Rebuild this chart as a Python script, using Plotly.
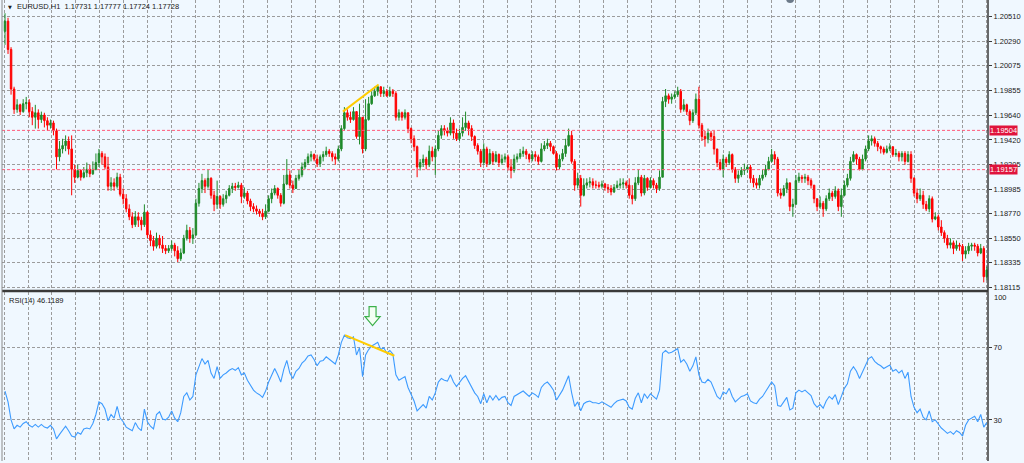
## EURUSD H1 candles with RSI(14) sub-window, MetaTrader look
import plotly.graph_objects as go

# first bar open, then closes / highs / lows of every H1 bar (left to right)
first_open = 1.2038
closes = [
    1.2047, 1.2022, 1.1987, 1.1969, 1.1973, 1.1967, 1.1974, 1.1975, 1.1967, 1.1962,
    1.1966, 1.1960, 1.1964, 1.1959, 1.1955, 1.1957, 1.1950, 1.1927, 1.1934, 1.1937,
    1.1941, 1.1934, 1.1916, 1.1909, 1.1915, 1.1909, 1.1913, 1.1916, 1.1912, 1.1916,
    1.1922, 1.1930, 1.1927, 1.1918, 1.1901, 1.1904, 1.1901, 1.1909, 1.1894, 1.1890,
    1.1881, 1.1874, 1.1867, 1.1874, 1.1871, 1.1867, 1.1878, 1.1858, 1.1853, 1.1848,
    1.1855, 1.1849, 1.1846, 1.1844, 1.1846, 1.1849, 1.1844, 1.1837, 1.1842, 1.1855,
    1.1862, 1.1855, 1.1858, 1.1886, 1.1899, 1.1906, 1.1901, 1.1908, 1.1893, 1.1885,
    1.1892, 1.1885, 1.1890, 1.1893, 1.1899, 1.1901, 1.1900, 1.1902, 1.1892, 1.1895,
    1.1888, 1.1883, 1.1881, 1.1879, 1.1877, 1.1874, 1.1879, 1.1890, 1.1895, 1.1899,
    1.1893, 1.1886, 1.1903, 1.1911, 1.1902, 1.1899, 1.1908, 1.1911, 1.1918, 1.1922,
    1.1927, 1.1929, 1.1925, 1.1921, 1.1927, 1.1929, 1.1932, 1.1930, 1.1927, 1.1925,
    1.1934, 1.1952, 1.1966, 1.1962, 1.1960, 1.1967, 1.1945, 1.1962, 1.1934, 1.1960,
    1.1974, 1.1981, 1.1985, 1.1989, 1.1983, 1.1985, 1.1981, 1.1985, 1.1983, 1.1962,
    1.1966, 1.1962, 1.1966, 1.1952, 1.1943, 1.1936, 1.1918, 1.1922, 1.1925, 1.1920,
    1.1932, 1.1927, 1.1934, 1.1946, 1.1952, 1.1950, 1.1948, 1.1957, 1.1948, 1.1943,
    1.1948, 1.1953, 1.1957, 1.1952, 1.1945, 1.1937, 1.1932, 1.1922, 1.1934, 1.1921,
    1.1930, 1.1923, 1.1929, 1.1922, 1.1925, 1.1927, 1.1918, 1.1915, 1.1925, 1.1927,
    1.1930, 1.1932, 1.1929, 1.1925, 1.1929, 1.1927, 1.1923, 1.1934, 1.1937, 1.1939,
    1.1936, 1.1930, 1.1918, 1.1925, 1.1930, 1.1937, 1.1946, 1.1923, 1.1902, 1.1908,
    1.1893, 1.1902, 1.1904, 1.1905, 1.1902, 1.1902, 1.1901, 1.1903, 1.1900, 1.1899,
    1.1896, 1.1900, 1.1902, 1.1903, 1.1904, 1.1902, 1.1893, 1.1890, 1.1904, 1.1909,
    1.1895, 1.1908, 1.1900, 1.1906, 1.1902, 1.1899, 1.1909, 1.1976, 1.1981, 1.1978,
    1.1980, 1.1982, 1.1985, 1.1969, 1.1973, 1.1967, 1.1959, 1.1966, 1.1978, 1.1955,
    1.1945, 1.1943, 1.1948, 1.1945, 1.1934, 1.1922, 1.1916, 1.1925, 1.1922, 1.1929,
    1.1916, 1.1908, 1.1911, 1.1915, 1.1916, 1.1918, 1.1908, 1.1904, 1.1902, 1.1908,
    1.1911, 1.1916, 1.1923, 1.1929, 1.1925, 1.1895, 1.1893, 1.1899, 1.1904, 1.1883,
    1.1885, 1.1906, 1.1909, 1.1908, 1.1909, 1.1906, 1.1902, 1.1890, 1.1883, 1.1886,
    1.1881, 1.1890, 1.1895, 1.1892, 1.1897, 1.1883, 1.1893, 1.1902, 1.1908, 1.1923,
    1.1929, 1.1925, 1.1916, 1.1925, 1.1934, 1.1941, 1.1943, 1.1939, 1.1936, 1.1934,
    1.1931, 1.1934, 1.1936, 1.1929, 1.1930, 1.1927, 1.1930, 1.1923, 1.1929, 1.1908,
    1.1895, 1.1890, 1.1893, 1.1885, 1.1881, 1.1890, 1.1872, 1.1874, 1.1865, 1.1860,
    1.1855, 1.1849, 1.1851, 1.1846, 1.1849, 1.1848, 1.1841, 1.1844, 1.1848, 1.1849,
    1.1848, 1.1842, 1.1846, 1.1821, 1.1827,
]
highs = [
    1.2054, 1.2050, 1.2024, 1.1989, 1.1978, 1.1974, 1.1978, 1.1980, 1.1978, 1.1971,
    1.1973, 1.1969, 1.1967, 1.1966, 1.1962, 1.1960, 1.1959, 1.1952, 1.1941, 1.1943,
    1.1946, 1.1945, 1.1946, 1.1920, 1.1920, 1.1916, 1.1918, 1.1922, 1.1920, 1.1923,
    1.1930, 1.1934, 1.1932, 1.1930, 1.1927, 1.1909, 1.1908, 1.1913, 1.1912, 1.1899,
    1.1894, 1.1885, 1.1878, 1.1879, 1.1878, 1.1874, 1.1885, 1.1879, 1.1862, 1.1857,
    1.1860, 1.1858, 1.1857, 1.1849, 1.1849, 1.1853, 1.1851, 1.1848, 1.1846, 1.1858,
    1.1867, 1.1865, 1.1864, 1.1890, 1.1904, 1.1912, 1.1908, 1.1916, 1.1909, 1.1897,
    1.1906, 1.1893, 1.1894, 1.1897, 1.1902, 1.1904, 1.1904, 1.1905, 1.1904, 1.1900,
    1.1897, 1.1890, 1.1886, 1.1884, 1.1881, 1.1881, 1.1885, 1.1893, 1.1899, 1.1902,
    1.1900, 1.1895, 1.1911, 1.1925, 1.1915, 1.1906, 1.1911, 1.1916, 1.1922, 1.1925,
    1.1930, 1.1932, 1.1930, 1.1929, 1.1929, 1.1932, 1.1936, 1.1934, 1.1932, 1.1930,
    1.1937, 1.1955, 1.1971, 1.1969, 1.1967, 1.1971, 1.1967, 1.1974, 1.1962, 1.1978,
    1.1980, 1.1985, 1.1989, 1.1990, 1.1989, 1.1989, 1.1987, 1.1989, 1.1987, 1.1985,
    1.1969, 1.1967, 1.1969, 1.1966, 1.1953, 1.1946, 1.1937, 1.1925, 1.1929, 1.1927,
    1.1937, 1.1936, 1.1937, 1.1950, 1.1955, 1.1955, 1.1953, 1.1962, 1.1960, 1.1952,
    1.1952, 1.1962, 1.1967, 1.1959, 1.1955, 1.1946, 1.1939, 1.1934, 1.1939, 1.1936,
    1.1934, 1.1932, 1.1932, 1.1930, 1.1929, 1.1930, 1.1929, 1.1925, 1.1929, 1.1930,
    1.1934, 1.1936, 1.1934, 1.1930, 1.1932, 1.1932, 1.1929, 1.1939, 1.1941, 1.1943,
    1.1941, 1.1937, 1.1932, 1.1929, 1.1934, 1.1943, 1.1952, 1.1950, 1.1925, 1.1913,
    1.1911, 1.1908, 1.1908, 1.1909, 1.1908, 1.1906, 1.1905, 1.1906, 1.1904, 1.1903,
    1.1902, 1.1903, 1.1906, 1.1908, 1.1908, 1.1906, 1.1908, 1.1902, 1.1909, 1.1916,
    1.1911, 1.1911, 1.1909, 1.1909, 1.1908, 1.1904, 1.1915, 1.1980, 1.1987, 1.1983,
    1.1983, 1.1985, 1.1989, 1.1987, 1.1978, 1.1974, 1.1969, 1.1969, 1.1983, 1.1989,
    1.1957, 1.1950, 1.1952, 1.1950, 1.1950, 1.1934, 1.1925, 1.1929, 1.1927, 1.1932,
    1.1930, 1.1918, 1.1915, 1.1918, 1.1921, 1.1920, 1.1920, 1.1911, 1.1908, 1.1911,
    1.1916, 1.1920, 1.1927, 1.1934, 1.1932, 1.1927, 1.1899, 1.1902, 1.1908, 1.1904,
    1.1890, 1.1911, 1.1913, 1.1911, 1.1912, 1.1911, 1.1908, 1.1902, 1.1890, 1.1892,
    1.1888, 1.1893, 1.1899, 1.1897, 1.1901, 1.1899, 1.1899, 1.1906, 1.1912, 1.1927,
    1.1932, 1.1930, 1.1927, 1.1929, 1.1937, 1.1946, 1.1946, 1.1945, 1.1941, 1.1937,
    1.1936, 1.1937, 1.1939, 1.1936, 1.1934, 1.1932, 1.1932, 1.1932, 1.1932, 1.1932,
    1.1909, 1.1899, 1.1899, 1.1897, 1.1888, 1.1893, 1.1892, 1.1878, 1.1876, 1.1871,
    1.1862, 1.1858, 1.1855, 1.1853, 1.1853, 1.1851, 1.1850, 1.1848, 1.1851, 1.1851,
    1.1851, 1.1850, 1.1850, 1.1848, 1.1830,
]
lows = [
    1.2026, 1.2018, 1.1982, 1.1965, 1.1966, 1.1964, 1.1966, 1.1969, 1.1962, 1.1955,
    1.1952, 1.1952, 1.1957, 1.1953, 1.1950, 1.1952, 1.1946, 1.1916, 1.1923, 1.1930,
    1.1932, 1.1929, 1.1893, 1.1904, 1.1908, 1.1906, 1.1908, 1.1909, 1.1909, 1.1911,
    1.1915, 1.1918, 1.1920, 1.1916, 1.1897, 1.1897, 1.1897, 1.1899, 1.1892, 1.1885,
    1.1878, 1.1871, 1.1864, 1.1865, 1.1865, 1.1862, 1.1865, 1.1855, 1.1848, 1.1844,
    1.1846, 1.1846, 1.1842, 1.1841, 1.1842, 1.1844, 1.1839, 1.1834, 1.1835, 1.1841,
    1.1853, 1.1851, 1.1850, 1.1857, 1.1883, 1.1895, 1.1895, 1.1899, 1.1890, 1.1879,
    1.1881, 1.1881, 1.1883, 1.1886, 1.1892, 1.1895, 1.1897, 1.1899, 1.1886, 1.1890,
    1.1885, 1.1879, 1.1878, 1.1876, 1.1874, 1.1871, 1.1872, 1.1878, 1.1886, 1.1893,
    1.1890, 1.1883, 1.1885, 1.1902, 1.1899, 1.1895, 1.1899, 1.1906, 1.1909, 1.1916,
    1.1920, 1.1923, 1.1923, 1.1918, 1.1918, 1.1923, 1.1927, 1.1927, 1.1923, 1.1920,
    1.1923, 1.1932, 1.1950, 1.1959, 1.1957, 1.1959, 1.1943, 1.1938, 1.1930, 1.1932,
    1.1959, 1.1973, 1.1980, 1.1981, 1.1980, 1.1980, 1.1980, 1.1980, 1.1980, 1.1959,
    1.1959, 1.1959, 1.1960, 1.1948, 1.1939, 1.1932, 1.1909, 1.1915, 1.1918, 1.1916,
    1.1918, 1.1923, 1.1911, 1.1932, 1.1943, 1.1946, 1.1945, 1.1946, 1.1943, 1.1941,
    1.1941, 1.1945, 1.1950, 1.1946, 1.1941, 1.1934, 1.1929, 1.1918, 1.1920, 1.1918,
    1.1920, 1.1920, 1.1922, 1.1918, 1.1920, 1.1922, 1.1915, 1.1908, 1.1913, 1.1922,
    1.1925, 1.1927, 1.1925, 1.1922, 1.1923, 1.1923, 1.1920, 1.1922, 1.1932, 1.1934,
    1.1932, 1.1929, 1.1915, 1.1916, 1.1923, 1.1927, 1.1936, 1.1921, 1.1897, 1.1899,
    1.1883, 1.1892, 1.1899, 1.1900, 1.1899, 1.1899, 1.1899, 1.1899, 1.1897, 1.1895,
    1.1893, 1.1895, 1.1899, 1.1899, 1.1899, 1.1899, 1.1890, 1.1885, 1.1888, 1.1902,
    1.1892, 1.1893, 1.1897, 1.1899, 1.1899, 1.1895, 1.1897, 1.1909, 1.1971, 1.1974,
    1.1974, 1.1978, 1.1980, 1.1966, 1.1967, 1.1964, 1.1955, 1.1957, 1.1964, 1.1952,
    1.1941, 1.1936, 1.1939, 1.1941, 1.1929, 1.1918, 1.1915, 1.1909, 1.1918, 1.1920,
    1.1913, 1.1904, 1.1904, 1.1909, 1.1911, 1.1913, 1.1904, 1.1900, 1.1899, 1.1899,
    1.1906, 1.1909, 1.1915, 1.1922, 1.1920, 1.1892, 1.1890, 1.1892, 1.1895, 1.1879,
    1.1874, 1.1885, 1.1904, 1.1904, 1.1904, 1.1902, 1.1899, 1.1886, 1.1879, 1.1881,
    1.1874, 1.1879, 1.1888, 1.1888, 1.1890, 1.1879, 1.1874, 1.1892, 1.1900, 1.1906,
    1.1922, 1.1920, 1.1915, 1.1915, 1.1923, 1.1932, 1.1937, 1.1936, 1.1932, 1.1930,
    1.1929, 1.1930, 1.1932, 1.1927, 1.1927, 1.1923, 1.1923, 1.1920, 1.1922, 1.1904,
    1.1892, 1.1886, 1.1888, 1.1881, 1.1879, 1.1878, 1.1869, 1.1871, 1.1862, 1.1857,
    1.1851, 1.1846, 1.1846, 1.1841, 1.1844, 1.1844, 1.1835, 1.1837, 1.1841, 1.1844,
    1.1844, 1.1839, 1.1841, 1.1816, 1.1818,
]
rsi = [
    46, 40, 30, 25, 27, 26, 28, 29, 27, 26,
    27.5, 26, 27.5, 26, 25.5, 27, 25, 19.5, 22, 24,
    26.5, 24, 21, 20.5, 23, 22, 25, 25.5, 25, 28,
    33, 40, 39, 36, 29.5, 33, 31, 37.5, 31, 29,
    26, 25, 24, 28.5, 25.5, 24, 36, 29, 26.5, 25,
    33, 34.5, 30.5, 30, 31.5, 35, 31, 29, 34, 43,
    45, 41, 43, 55, 60, 64, 61, 63, 56, 53,
    59.5, 53, 55, 56, 57.5, 58.5, 57.5, 59, 55, 56,
    52, 49, 46.5, 45, 44, 42.5, 46, 51, 55, 58.5,
    55, 51, 58, 63, 56, 53, 57, 58.5, 61.5, 63,
    65.5, 66, 63.5, 60, 62.5, 63, 65, 63.5, 62, 61,
    66, 73, 77, 75.5, 75, 76, 66, 70, 54, 66,
    69, 71, 72, 73, 69, 70, 67, 68.5, 66.5, 55,
    52, 53, 54, 48, 44, 40.5, 35, 37, 38.5, 36.5,
    43, 41, 45, 51, 53, 52, 51.5, 55, 51, 48.5,
    51, 53, 54.5, 51.5, 48, 45, 43, 39, 44.5, 39.5,
    43.5, 41, 43.5, 41, 42.5, 43, 39.5, 38, 43, 44,
    45, 46, 44.5, 43, 45, 44, 42.5, 48, 50, 51,
    49, 46.5, 41, 44, 46.5, 50.5, 54.5, 45, 37.5, 40,
    35, 39, 40, 40.5, 39.5, 39.5, 39, 40, 39, 38,
    37, 39, 40.5, 41, 41.5, 40.5, 37, 36, 42, 45,
    39.5, 44.5, 42, 44.5, 43, 41.5, 46.5, 67, 68.5, 67,
    67.5, 68.5, 69.5, 62, 63.5, 61, 57, 60, 65, 55,
    51, 50.5, 52.5, 51, 47, 43, 41.5, 45.5, 44.5, 47.5,
    43, 40, 41.5, 43, 43.5, 44.5, 40.5, 39.5, 39, 41.5,
    43, 45.5, 48.5, 51, 49, 38, 37.5, 40, 42.5, 35.5,
    36.5, 45, 46.5, 45.5, 46.5, 45, 43.5, 39, 37, 38.5,
    36.5, 40.5, 43, 41.5, 44, 38.5, 43.5, 47.5, 50, 57,
    59.5, 57, 53, 57, 61, 64, 65, 62.5, 61, 60,
    58.5, 59.5, 60.5, 57, 58, 56, 57.5, 53, 56.5, 43,
    37, 34, 36, 31.5, 30, 35, 29, 30, 27.5, 25.5,
    24, 22.5, 23.5, 22, 24, 23, 21, 27, 30, 31,
    32, 29, 33, 26, 28.5,
]

# axis labels
price_ticks = [1.20510, 1.20290, 1.20075, 1.19855, 1.19640, 1.19420,
               1.19205, 1.18985, 1.18770, 1.18550, 1.18335, 1.18115]
price_labels = ["%.5f" % v for v in price_ticks]
rsi_ticks = [30, 70]
levels = [1.19504, 1.19157]          # red horizontal price levels
level_labels = ["1.19504", "1.19157"]

# drawn objects (bar position, value)
trend_price_x = [111.5, 123.3]
trend_price_y = [1.1967, 1.1991]
trend_rsi_x = [112.2, 128.5]
trend_rsi_y = [77.0, 65.6]
arrow_bar, arrow_top, arrow_tip = 121.3, 92.8, 82.3

bars = list(range(len(closes)))
opens = [first_open] + closes[:-1]

FONT = "Liberation Sans"
GRID = "#9c9c9c"
BG = "#F0F8FF"

fig = go.Figure()
fig.add_trace(go.Candlestick(
    x=bars, open=opens, high=highs, low=lows, close=closes,
    increasing=dict(line=dict(color="#1f8a2a", width=1), fillcolor="#1f8a2a"),
    decreasing=dict(line=dict(color="#ff0000", width=1), fillcolor="#ff0000"),
    xaxis="x", yaxis="y", hoverinfo="skip"))

fig.add_trace(go.Scatter(x=bars, y=rsi, mode="lines",
                         line=dict(color="#3d9bff", width=1.1),
                         xaxis="x2", yaxis="y2", hoverinfo="skip"))

fig.add_trace(go.Scatter(x=trend_price_x, y=trend_price_y, mode="lines",
                         line=dict(color="#ffcc00", width=2),
                         xaxis="x", yaxis="y", hoverinfo="skip"))
fig.add_trace(go.Scatter(x=trend_rsi_x, y=trend_rsi_y, mode="lines",
                         line=dict(color="#ffcc00", width=2),
                         xaxis="x2", yaxis="y2", hoverinfo="skip"))

shapes = []
for lv in levels:
    shapes.append(dict(type="line", xref="paper", yref="y", x0=0, x1=1, y0=lv, y1=lv,
                       line=dict(color="#ff5b7a", width=1, dash="3px,2px")))

# hollow green arrow in the RSI window
sw, hw, hh = 1.15, 2.5, 5.0
ax = arrow_bar
path = ("M %f,%f L %f,%f L %f,%f L %f,%f L %f,%f L %f,%f L %f,%f Z" % (
    ax - sw, arrow_top, ax + sw, arrow_top, ax + sw, arrow_tip + hh,
    ax + hw, arrow_tip + hh, ax, arrow_tip, ax - hw, arrow_tip + hh,
    ax - sw, arrow_tip + hh))
shapes.append(dict(type="path", xref="x2", yref="y2", path=path,
                   fillcolor="#f4fff4", line=dict(color="#3cb04a", width=1.2)))

# small grey object peeking at the top edge
shapes.append(dict(type="circle", xref="x", yref="paper", x0=257.8, x1=260.4,
                   y0=1 - 3 / 463, y1=1 + 5 / 463, fillcolor="#6c7a89",
                   line=dict(width=0)))

# window borders
shapes += [
    dict(type="line", xref="paper", yref="paper", x0=0, x1=1, y0=0.369, y1=0.369,
         line=dict(color="#3a3a3a", width=2.5)),
    dict(type="line", xref="paper", yref="paper", x0=1, x1=1, y0=0, y1=1,
         line=dict(color="#3a3a3a", width=1.5)),
    dict(type="line", xref="paper", yref="paper", x0=0, x1=0, y0=0, y1=1,
         line=dict(color="#8a8a8a", width=1)),
]

annotations = []
for lv, txt in zip(levels, level_labels):
    annotations.append(dict(xref="paper", yref="y", x=1, y=lv, xanchor="left",
                            xshift=1, text=txt, showarrow=False, bgcolor="#e0143c",
                            borderpad=0, font=dict(family=FONT, size=7.5, color="white")))
annotations += [
    dict(xref="paper", yref="y2", x=1, y=100, xanchor="left", yanchor="middle",
         xshift=4, yshift=-4, text="100", showarrow=False,
         font=dict(family=FONT, size=7.5, color="#202020")),
    dict(xref="paper", yref="paper", x=0.004, y=1, xanchor="left", yanchor="top",
         yshift=-2, text="▼", showarrow=False,
         font=dict(family="DejaVu Sans", size=5, color="#202020")),
    dict(xref="paper", yref="paper", x=0.013, y=1, xanchor="left", yanchor="top",
         yshift=0, text="EURUSD,H1  1.17731 1.17777 1.17724 1.17728", showarrow=False,
         font=dict(family=FONT, size=7.5, color="#202020")),
    dict(xref="paper", yref="paper", x=0.005, y=0.3672, xanchor="left", yanchor="top",
         yshift=-2, text="RSI(14) 46.1189", showarrow=False,
         font=dict(family=FONT, size=7.5, color="#202020")),
]

xcommon = dict(range=[-0.99, 324.4], showticklabels=False, showgrid=True,
               gridcolor=GRID, griddash="3px,2px", gridwidth=1, tickmode="linear",
               tick0=7.59, dtick=7.911, zeroline=False, showline=False, ticks="")

fig.update_layout(
    width=1024, height=463,
    margin=dict(l=2, r=36, t=0, b=0),
    paper_bgcolor=BG, plot_bgcolor=BG,
    showlegend=False, hovermode=False,
    font=dict(family=FONT, size=7.5, color="#202020"),
    xaxis=dict(domain=[0, 1], anchor="y", rangeslider=dict(visible=False), **xcommon),
    xaxis2=dict(domain=[0, 1], anchor="y2", matches="x", **xcommon),
    yaxis=dict(domain=[0.3715, 1], anchor="x", range=[1.18095, 1.20657], side="right",
               tickmode="array", tickvals=price_ticks, ticktext=price_labels,
               showgrid=True, gridcolor=GRID, griddash="3px,2px", zeroline=False,
               ticks="outside", ticklen=3, tickcolor="#3a3a3a",
               tickfont=dict(family=FONT, size=7.5, color="#202020")),
    yaxis2=dict(domain=[0, 0.3672], anchor="x2", range=[7.2, 101.1], side="right",
                tickmode="array", tickvals=rsi_ticks, ticktext=[str(v) for v in rsi_ticks],
                showgrid=True, gridcolor=GRID, griddash="3px,2px", zeroline=False,
                ticks="outside", ticklen=3, tickcolor="#3a3a3a",
                tickfont=dict(family=FONT, size=7.5, color="#202020")),
    shapes=shapes,
    annotations=annotations,
)

# page body margin would shift the chart; remove it
fig.write_html("out.html", config={"displayModeBar": False},
               post_script="document.body.style.margin='0';"
                           "document.body.style.background='%s';" % BG)
